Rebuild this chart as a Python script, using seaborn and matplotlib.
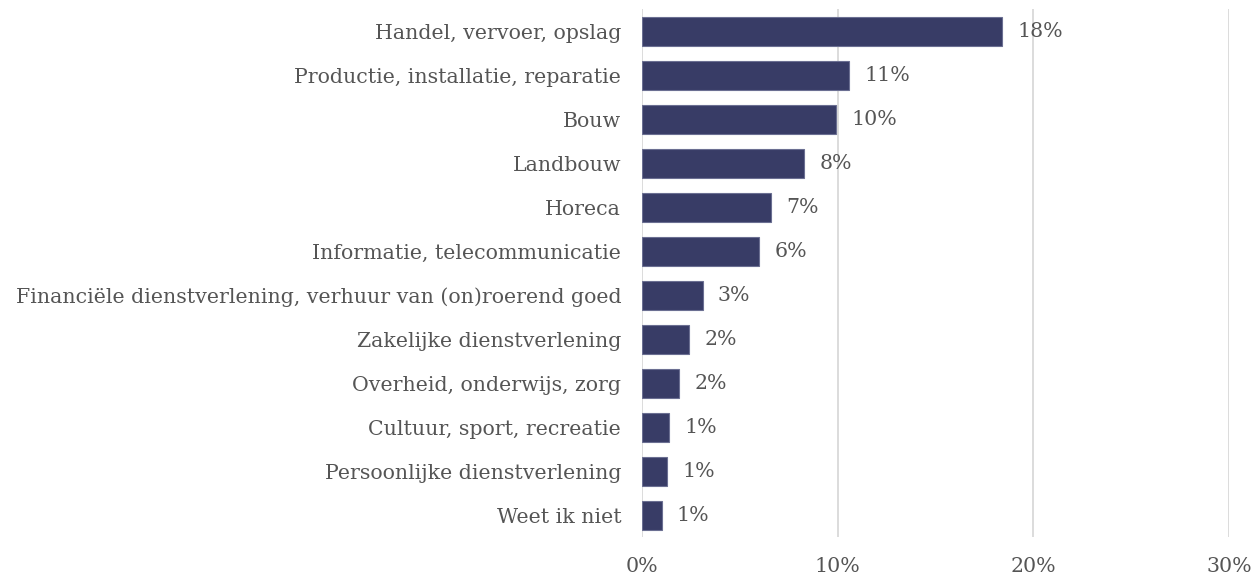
import matplotlib
matplotlib.use("Agg")
import matplotlib.pyplot as plt
import seaborn as sns
import pandas as pd
from matplotlib.ticker import FuncFormatter

categories = [
    "Handel, vervoer, opslag",
    "Productie, installatie, reparatie",
    "Bouw",
    "Landbouw",
    "Horeca",
    "Informatie, telecommunicatie",
    "Financiële dienstverlening, verhuur van (on)roerend goed",
    "Zakelijke dienstverlening",
    "Overheid, onderwijs, zorg",
    "Cultuur, sport, recreatie",
    "Persoonlijke dienstverlening",
    "Weet ik niet",
]
values = [18.4, 10.6, 9.9, 8.3, 6.6, 6.0, 3.1, 2.4, 1.9, 1.4, 1.3, 1.0]
value_labels = ["18%", "11%", "10%", "8%", "7%", "6%", "3%", "2%", "2%", "1%", "1%", "1%"]
x_ticks = [0, 10, 20, 30]

df = pd.DataFrame({"cat": categories, "val": values})

sns.set_theme(style="white")
plt.rcParams["font.family"] = ["DejaVu Serif"]
text_color = "#555555"
bar_color = "#383C66"

fig = plt.figure(figsize=(12.55, 5.79), dpi=100)
ax = fig.add_axes([0.5116, 0.0717, 0.4677, 0.9119])

sns.barplot(data=df, x="val", y="cat", orient="h", color=bar_color,
            saturation=1, width=0.66, ax=ax, edgecolor="#6b6f92", linewidth=0.8)

ax.set_xlim(0, 30)
ax.set_ylim(11.5, -0.5)
ax.set_xticks(x_ticks)
ax.xaxis.set_major_formatter(FuncFormatter(lambda v, p: f"{v:.0f}%"))
ax.grid(axis="x", color="#d9d9d9", linewidth=1.3)
ax.set_axisbelow(True)
for s in ax.spines.values():
    s.set_visible(False)
ax.set_xlabel("")
ax.set_ylabel("")
ax.tick_params(axis="both", length=0, labelsize=14.8, labelcolor=text_color)
ax.tick_params(axis="y", pad=15)
ax.tick_params(axis="x", pad=14)

ax.bar_label(ax.containers[0], labels=value_labels,
             padding=11, fontsize=14.8, color=text_color)

fig.savefig("out.png", dpi=100)
